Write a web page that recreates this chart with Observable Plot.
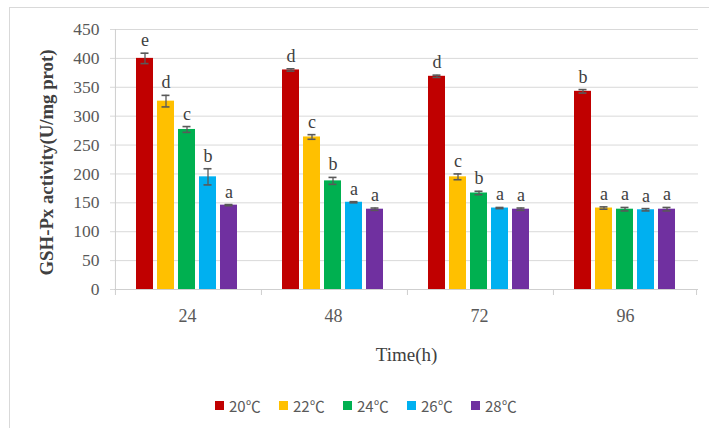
<!DOCTYPE html>
<html>
<head>
<meta charset="utf-8">
<script src="https://cdn.jsdelivr.net/npm/d3@7"></script>
<script src="https://cdn.jsdelivr.net/npm/@observablehq/plot@0.6"></script>
<style>
  html, body { margin: 0; padding: 0; background: #fff; overflow: hidden; }
  #chart { position: relative; width: 709px; height: 428px; }
  #border { position: absolute; left: 9px; top: 7px; width: 720px; height: 440px;
            border-left: 1px solid #d9d9d9; border-top: 1px solid #d9d9d9; }
  #plot { position: absolute; left: 0; top: 0; }
  #legend { position: absolute; left: 215px; top: 395px; display: flex; align-items: center;
            font-family: "Noto Sans CJK SC", "Noto Sans", sans-serif; font-size: 15px; color: #595959; }
  #legend .item { display: flex; align-items: center; width: 64px; }
  #legend .sw { width: 9px; height: 9px; margin-right: 5px; }
</style>
</head>
<body>
<div id="chart">
  <div id="border"></div>
  <div id="plot"></div>
  <div id="legend"></div>
</div>
<script>
// Sampling times (h) and incubation temperatures
const times = ["24", "48", "72", "96"];
const temps = ["20℃", "22℃", "24℃", "26℃", "28℃"];
const colors = ["#c00000", "#ffc000", "#00b050", "#00b0f0", "#7030a0"];

// Mean GSH-Px activity (U/mg prot) per temperature, one value per time
const mean20 = [400, 380, 369, 343];
const mean22 = [326, 264, 195, 141];
const mean24 = [277, 188, 167, 139];
const mean26 = [195, 151, 141, 138];
const mean28 = [146, 139, 139, 139];

// Error bar half-lengths
const err20 = [9, 2, 2, 3];
const err22 = [10, 4, 5, 2];
const err24 = [5, 6, 3, 3];
const err26 = [14, 1, 1, 2];
const err28 = [1, 2, 2, 3];

// Significance letters
const sig20 = ["e", "d", "d", "b"];
const sig22 = ["d", "c", "c", "a"];
const sig24 = ["c", "b", "b", "a"];
const sig26 = ["b", "a", "a", "a"];
const sig28 = ["a", "a", "a", "a"];

const yTicks = [0, 50, 100, 150, 200, 250, 300, 350, 400, 450];

const means = [mean20, mean22, mean24, mean26, mean28];
const errs = [err20, err22, err24, err26, err28];
const sigs = [sig20, sig22, sig24, sig26, sig28];

const rows = [];
times.forEach((t, i) => {
  temps.forEach((temp, j) => {
    rows.push({time: t, temp, mean: means[j][i], err: errs[j][i], sig: sigs[j][i]});
  });
});

// Layout
const width = 709, height = 368;
const marginLeft = 114, marginRight = 11, marginTop = 29, marginBottom = 79;
const padIn = 0.18, padOut = 0.95;
const facetW = (width - marginLeft - marginRight) / times.length;
const step = facetW / (temps.length - padIn + 2 * padOut);
// distance from the centre of an outer bar to the facet edge
const edge = padOut * step + (1 - padIn) * step / 2;

const serif = "Liberation Serif, Times New Roman, serif";
const grid = "#d9d9d9";
const axisCol = "#cfcfcf";

const plot = Plot.plot({
  width, height, marginLeft, marginRight, marginTop, marginBottom,
  style: {fontFamily: serif, background: "transparent"},
  fx: {domain: times, padding: 0, axis: null},
  x: {domain: temps, paddingInner: padIn, paddingOuter: padOut, axis: null},
  y: {domain: [0, 450], axis: null},
  color: {domain: temps, range: colors},
  marks: [
    Plot.gridY(yTicks.slice(1), {stroke: grid, strokeOpacity: 1}),
    Plot.axisY(yTicks, {
      tickSize: 4, tickPadding: 11, stroke: grid, fill: "#595959",
      fontSize: 17.5, fontFamily: serif, label: null
    }),
    // left axis line and group separators below the baseline
    Plot.ruleX([times[0]], {fx: d => d, x: () => temps[0], y1: 450, y2: -10.4, dx: -edge, stroke: axisCol}),
    Plot.ruleX(times.slice(1), {fx: d => d, x: () => temps[0], y1: 0, y2: -10.4, dx: -edge, stroke: axisCol}),
    Plot.ruleX([times[times.length - 1]], {fx: d => d, x: () => temps[temps.length - 1], y1: 0, y2: -10.4, dx: edge, stroke: axisCol}),
    Plot.barY(rows, {fx: "time", x: "temp", y: "mean", fill: "temp"}),
    Plot.ruleY([0], {stroke: axisCol}),
    // error bars
    Plot.ruleX(rows, {fx: "time", x: "temp", y1: d => d.mean - d.err, y2: d => d.mean + d.err, stroke: "#595959", strokeWidth: 1.3}),
    Plot.tickY(rows, {fx: "time", x: "temp", y: d => d.mean - d.err, stroke: "#595959", strokeWidth: 1.6, insetLeft: 4.5, insetRight: 4.5}),
    Plot.tickY(rows, {fx: "time", x: "temp", y: d => d.mean + d.err, stroke: "#595959", strokeWidth: 1.6, insetLeft: 4.5, insetRight: 4.5}),
    // significance letters
    Plot.text(rows, {
      fx: "time", x: "temp", y: d => d.mean + d.err, text: "sig",
      lineAnchor: "bottom", dy: -7, fontSize: 18, fontFamily: serif, fill: "#404040"
    }),
    // group labels along the bottom
    Plot.axisFx({
      anchor: "bottom", tickSize: 0, tickPadding: 20, fontSize: 18, fontFamily: serif,
      fill: "#595959", label: null
    }),
    // axis titles
    Plot.text([times[0]], {
      fx: d => d, text: () => "GSH-Px activity(U/mg prot)", frameAnchor: "left",
      textAnchor: "middle", lineAnchor: "middle",
      rotate: -90, dx: -68, dy: 3, fontSize: 18.8, fontWeight: "bold", fontFamily: serif, fill: "#404040"
    }),
    // x title sits at the shared edge of the two middle groups, i.e. the plot centre
    Plot.text([times[1]], {
      fx: d => d, text: () => "Time(h)", frameAnchor: "bottom-right",
      textAnchor: "middle", lineAnchor: "bottom", dy: 71,
      fontSize: 19, fontFamily: serif, fill: "#404040"
    })
  ]
});
document.getElementById("plot").appendChild(plot);

// Legend
const legend = document.getElementById("legend");
temps.forEach((t, i) => {
  const item = document.createElement("div");
  item.className = "item";
  const sw = document.createElement("div");
  sw.className = "sw";
  sw.style.background = colors[i];
  const lab = document.createElement("span");
  lab.textContent = t;
  item.appendChild(sw);
  item.appendChild(lab);
  legend.appendChild(item);
});
</script>
</body>
</html>
